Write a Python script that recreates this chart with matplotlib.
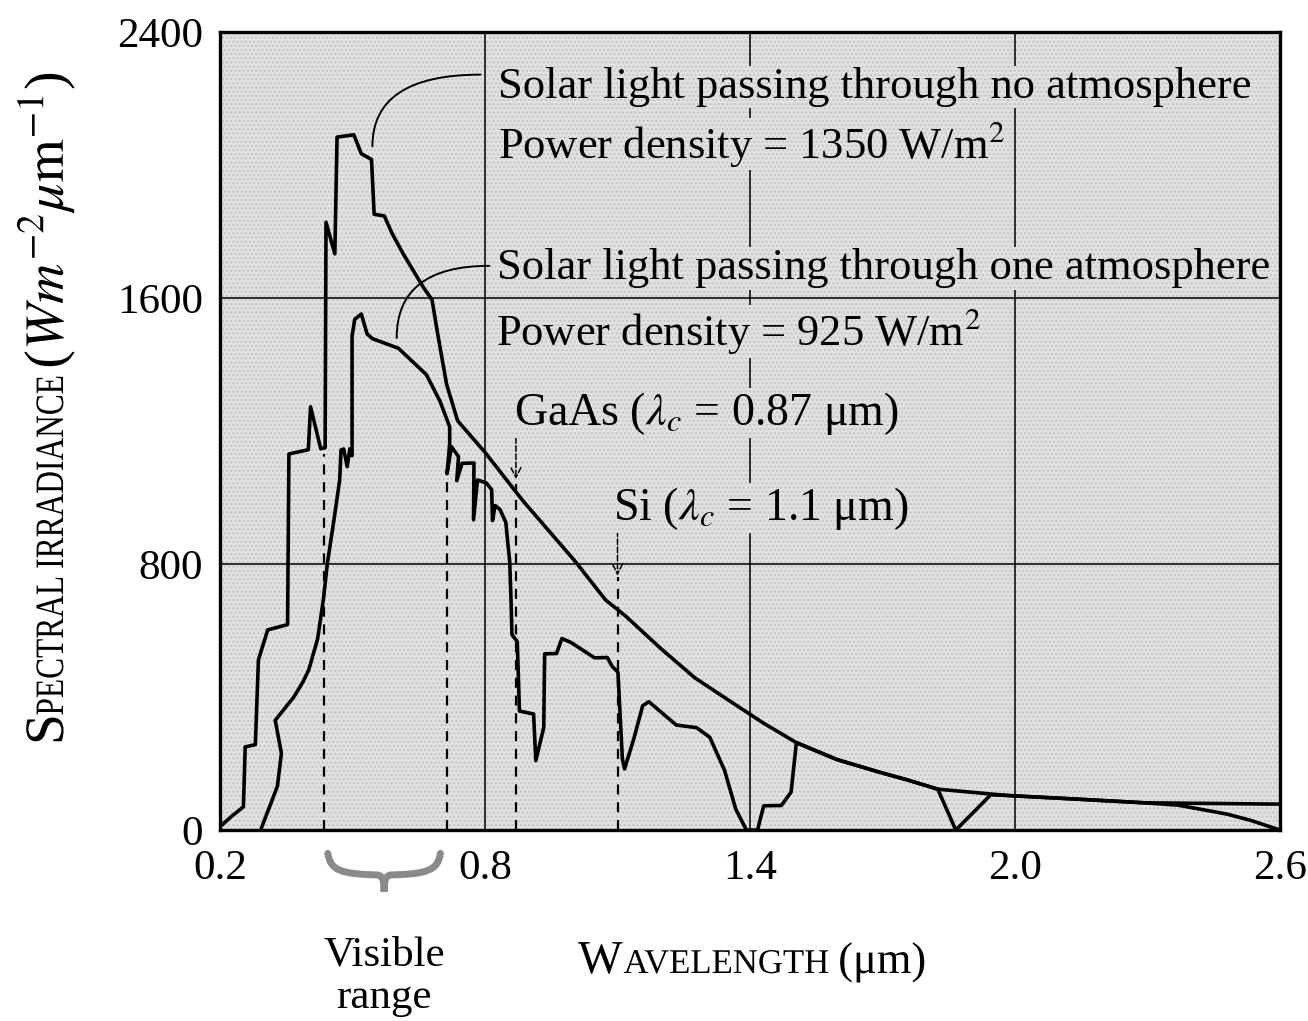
import numpy as np
import matplotlib
matplotlib.use("Agg")
import matplotlib.pyplot as plt
from matplotlib.patches import PathPatch, Rectangle
from matplotlib.path import Path
from matplotlib.textpath import TextPath
from matplotlib.font_manager import FontProperties
from matplotlib.transforms import Affine2D

plt.rcParams['font.family'] = ['Liberation Serif', 'DejaVu Serif']
plt.rcParams['mathtext.fontset'] = 'stix'

# spectral irradiance (W m^-2 um^-1) vs wavelength (um)
wl_space = [0.200, 0.225, 0.253, 0.257, 0.280, 0.287, 0.308, 0.353, 0.356, 0.400,
            0.405, 0.428, 0.438, 0.440, 0.460, 0.465, 0.503, 0.511, 0.520, 0.543,
            0.549, 0.572, 0.589, 0.613, 0.661, 0.680, 0.693, 0.713, 0.738, 0.800,
            0.886, 1.003, 1.073, 1.119, 1.198, 1.275, 1.351, 1.430, 1.505, 1.597,
            1.688, 1.756, 1.825, 1.983, 2.141, 2.293, 2.450, 2.600]
irr_space = [10, 40, 70, 250, 257, 512, 602, 618, 1131, 1144,
             1273, 1147, 1150, 1828, 1733, 2084, 2091, 2064, 2034, 2017,
             1852, 1847, 1796, 1737, 1631, 1595, 1491, 1341, 1231, 1136,
             990, 810, 692, 643, 546, 458, 391, 322, 263, 212,
             176, 151, 123, 104, 93, 82, 80, 78]

wl_ground = [0.292, 0.330, 0.339, 0.325, 0.367, 0.388, 0.401, 0.421, 0.434, 0.443,
             0.458, 0.471, 0.474, 0.480, 0.488, 0.494, 0.499, 0.499, 0.505, 0.520,
             0.533, 0.545, 0.604, 0.667, 0.698, 0.720, 0.720, 0.714, 0.724, 0.740,
             0.736, 0.748, 0.775, 0.774, 0.783, 0.803, 0.815, 0.817, 0.823, 0.834,
             0.847, 0.856, 0.859, 0.861, 0.873, 0.878, 0.910, 0.915, 0.933, 0.935,
             0.962, 0.974, 0.995, 1.048, 1.077, 1.088, 1.101, 1.111, 1.116, 1.137,
             1.157, 1.171, 1.233, 1.279, 1.309, 1.342, 1.368, 1.392, 1.417, 1.431,
             1.471, 1.493, 1.505, 1.597, 1.688, 1.756, 1.825, 1.866, 1.945, 1.983,
             2.141, 2.293, 2.369, 2.480, 2.534, 2.600]
irr_ground = [0, 132, 231, 330, 400, 446, 482, 575, 693, 801,
              933, 1053, 1143, 1146, 1093, 1147, 1126, 1485, 1536, 1552,
              1492, 1478, 1449, 1370, 1290, 1213, 1162, 1072, 1153, 1123,
              1051, 1103, 1104, 933, 1053, 1044, 1024, 931, 976, 964,
              926, 806, 687, 588, 567, 358, 349, 209, 308, 530,
              531, 576, 564, 518, 519, 492, 475, 214, 184, 275,
              374, 386, 316, 308, 279, 181, 62, 0, 0, 73,
              74, 114, 263, 212, 176, 151, 123, 0, 106, 104,
              93, 82, 75, 48, 29, 0]

visible_edges = [0.435, 0.715]
gaas_cut = 0.87
si_cut = 1.1

x_ticks = [0.2, 0.8, 1.4, 2.0, 2.6]
x_ticklabels = ['0.2', '0.8', '1.4', '2.0', '2.6']
y_ticks = [0, 800, 1600, 2400]
y_ticklabels = ['0', '800', '1600', '2400']

BG = '#e1e1e1'
DOTS = '#c4c4c4'
FS = 31


def draw_caps(fig, runs, x, y, angle=0):
    # runs of (text, size_pt, italic, xscale, gap_px) laid out as one filled path
    k = fig.dpi / 72.0
    verts, codes = [], []
    cur = 0.0
    for s, size, italic, sx, gap in runs:
        fp = FontProperties(family='Liberation Serif',
                            style='italic' if italic else 'normal')
        tp = TextPath((0, 0), s, size=size, prop=fp)
        v = tp.vertices.copy()
        v[:, 0] = cur + v[:, 0] * sx
        verts.append(v)
        codes.append(tp.codes)
        cur = v[:, 0].max() + gap / k
    path = Path(np.vstack(verts), np.concatenate(codes))
    tr = Affine2D().scale(k).rotate_deg(angle).translate(x, y)
    fig.add_artist(PathPatch(path, transform=tr, fc='black', ec='none', lw=0))


fig = plt.figure(figsize=(13.08, 10.21), dpi=100)
ax = fig.add_axes([0.1682, 0.187, 0.8104, 0.7816])
ax.set_xlim(0.2, 2.6)
ax.set_ylim(0, 2400)
ax.set_facecolor(BG)
ax.add_patch(Rectangle((0, 0), 1, 1, transform=ax.transAxes, fill=False,
                       hatch='....', ec=DOTS, lw=0, zorder=0))

for s in ax.spines.values():
    s.set_linewidth(2.4)
ax.set_xticks(x_ticks)
ax.set_xticklabels(x_ticklabels)
ax.set_yticks(y_ticks)
ax.set_yticklabels(y_ticklabels)
ax.tick_params(length=0, labelsize=FS)
ax.tick_params(axis='x', pad=14)
ax.tick_params(axis='y', pad=12)

for gx in x_ticks[1:-1]:
    ax.axvline(gx, color='black', lw=1.1, zorder=1)
for gy in y_ticks[1:-1]:
    ax.axhline(gy, color='black', lw=1.1, zorder=1)

# cut-off and visible-band markers
dash = (0, (4.5, 3.5))
ax.plot([visible_edges[0]] * 2, [0, 1130], ls=dash, lw=1.6, color='black', zorder=2)
ax.plot([visible_edges[1]] * 2, [0, 1060], ls=dash, lw=1.6, color='black', zorder=2)
ax.plot([gaas_cut] * 2, [0, 1040], ls=dash, lw=1.6, color='black', zorder=2)
ax.plot([si_cut] * 2, [0, 760], ls=dash, lw=1.6, color='black', zorder=2)
ax.annotate('', xy=(gaas_cut, 1055), xytext=(gaas_cut, 1180),
            arrowprops=dict(arrowstyle='->', lw=1.1, ls='--', color='black',
                            mutation_scale=18, shrinkA=0, shrinkB=0), zorder=2)
ax.annotate('', xy=(si_cut, 765), xytext=(si_cut, 900),
            arrowprops=dict(arrowstyle='->', lw=1.1, ls='--', color='black',
                            mutation_scale=18, shrinkA=0, shrinkB=0), zorder=2)

ax.plot(wl_space, irr_space, color='black', lw=2.6, zorder=3)
ax.plot(wl_ground, irr_ground, color='black', lw=2.6, zorder=3)

box = dict(fc=BG, ec=DOTS, lw=0, hatch='....', pad=1.0)
ax.text(0.83, 2235, 'Solar light passing through no atmosphere', fontsize=32,
        ha='left', va='center', bbox=box, zorder=4)
ax.text(0.83, 2063, 'Power density = 1350 W/m$^2$', fontsize=32,
        ha='left', va='center', bbox=box, zorder=4)
ax.text(0.828, 1689, 'Solar light passing through one atmosphere', fontsize=32,
        ha='left', va='center', bbox=box, zorder=4)
ax.text(0.825, 1500, 'Power density = 925 W/m$^2$', fontsize=32,
        ha='left', va='center', bbox=box, zorder=4)
ax.text(0.865, 1254, r'GaAs ($\lambda_c$ = 0.87 μm)', fontsize=33,
        ha='left', va='center', bbox=box, zorder=4)
ax.text(1.09, 968, r'Si ($\lambda_c$ = 1.1 μm)', fontsize=33,
        ha='left', va='center', bbox=box, zorder=4)

leader = dict(arrowstyle='-', lw=1.4, color='black', shrinkA=0, shrinkB=0,
              connectionstyle='angle3,angleA=0,angleB=90')
ax.annotate('', xy=(0.545, 2056), xytext=(0.79, 2272), arrowprops=leader, zorder=4)
ax.annotate('', xy=(0.600, 1480), xytext=(0.81, 1697), arrowprops=leader, zorder=4)

# brace under the visible band
lo, hi = visible_edges[0] + 0.009, visible_edges[1] - 0.016
mid = 0.5 * (lo + hi)
verts = [(lo, -70), (lo + 0.006, -122), (lo + 0.03, -132), (mid - 0.015, -135),
         (mid - 0.004, -137), (mid, -150), (mid, -185),
         (mid, -150), (mid + 0.004, -137), (mid + 0.015, -135),
         (hi - 0.03, -132), (hi - 0.006, -122), (hi, -70)]
codes = [Path.MOVETO] + [Path.CURVE4] * 6 + [Path.CURVE4] * 6
ax.add_patch(PathPatch(Path(verts, codes), fill=False, ec='#8a8a8a', lw=5,
                       capstyle='round', clip_on=False))
ax.text(mid, -440, 'Visible\nrange', fontsize=FS, ha='center', va='center',
        linespacing=1.15, clip_on=False)

# small-caps axis titles
draw_caps(fig, [('W', 34, False, 1.0, 1), ('AVELENGTH', 25, False, 1.0, 10),
                ('(μm)', 32, False, 1.0, 0)], 578, 48)
draw_caps(fig, [('S', 40, False, 1.0, 2), ('PECTRAL', 29, False, 0.78, 9),
                ('IRRADIANCE', 29, False, 0.78, 8),
                (r'($Wm^{-2}\mu\mathrm{m}^{-1}$)', 40, False, 1.0, 0)],
          63, 276, angle=90)

fig.savefig('out.png', dpi=100)
